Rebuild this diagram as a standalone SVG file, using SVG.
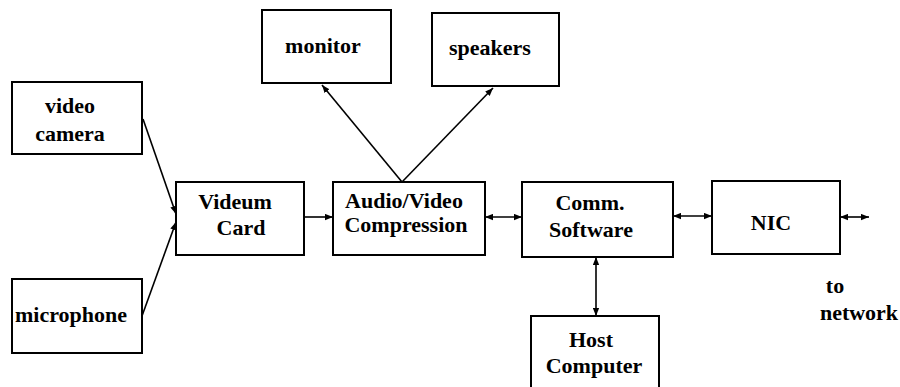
<svg xmlns="http://www.w3.org/2000/svg" width="900" height="387" viewBox="0 0 900 387">
<style>
.box{fill:#fff;stroke:#000;stroke-width:2}
.t{font-family:'Liberation Serif',serif;font-weight:700;font-size:22px;fill:#000;text-anchor:middle}
.c{stroke:#000;stroke-width:1.6;fill:none}
</style>
<defs>
<marker id="ah" viewBox="0 0 10 10" refX="10" refY="5" markerWidth="8" markerHeight="7" markerUnits="userSpaceOnUse" orient="auto-start-reverse" preserveAspectRatio="none">
<path d="M0,0.5 L10,5 L0,9.5 Z" fill="#000"/>
</marker>
</defs>
<rect width="900" height="387" fill="#fff"/>
<g id="connectors">
<line class="c" x1="143" y1="119" x2="176" y2="214" marker-end="url(#ah)"/>
<line class="c" x1="142" y1="316" x2="176" y2="222" marker-end="url(#ah)"/>
<line class="c" x1="304" y1="217" x2="333" y2="217" marker-end="url(#ah)"/>
<line class="c" x1="485" y1="217" x2="522" y2="217" marker-start="url(#ah)" marker-end="url(#ah)"/>
<line class="c" x1="673" y1="216" x2="712" y2="216" marker-start="url(#ah)" marker-end="url(#ah)"/>
<line class="c" x1="840" y1="217" x2="869" y2="217" marker-start="url(#ah)" marker-end="url(#ah)"/>
<line class="c" x1="596" y1="257" x2="596" y2="316" marker-start="url(#ah)" marker-end="url(#ah)"/>
<line class="c" x1="402" y1="182" x2="322" y2="85" marker-end="url(#ah)"/>
<line class="c" x1="402" y1="182" x2="493" y2="88" marker-end="url(#ah)"/>
</g>
<g id="video-camera"><rect class="box" x="12" y="82" width="130" height="72"/><text class="t" x="70" y="113">video</text><text class="t" x="70" y="141">camera</text></g>
<g id="microphone"><rect class="box" x="12" y="279" width="130" height="74"/><text class="t" x="71" y="322">microphone</text></g>
<g id="videum-card"><rect class="box" x="176" y="182" width="128" height="73"/><text class="t" x="235" y="209">Videum</text><text class="t" x="241" y="235">Card</text></g>
<g id="av-compression"><rect class="box" x="333" y="182" width="152" height="73"/><text class="t" x="404" y="208">Audio/Video</text><text class="t" x="406" y="232">Compression</text></g>
<g id="monitor"><rect class="box" x="262" y="10" width="129" height="73"/><text class="t" x="323" y="53">monitor</text></g>
<g id="speakers"><rect class="box" x="432" y="13" width="127" height="73"/><text class="t" x="490" y="55">speakers</text></g>
<g id="comm-software"><rect class="box" x="522" y="182" width="151" height="75"/><text class="t" x="590" y="210">Comm.</text><text class="t" x="591" y="237">Software</text></g>
<g id="nic"><rect class="box" x="712" y="181" width="128" height="73"/><text class="t" x="771" y="230">NIC</text></g>
<g id="host-computer"><rect class="box" x="531" y="316" width="128" height="80"/><text class="t" x="591" y="347">Host</text><text class="t" x="594" y="373">Computer</text></g>
<g id="to-network"><text class="t" x="835" y="293">to</text><text class="t" x="859" y="320">network</text></g>
</svg>
